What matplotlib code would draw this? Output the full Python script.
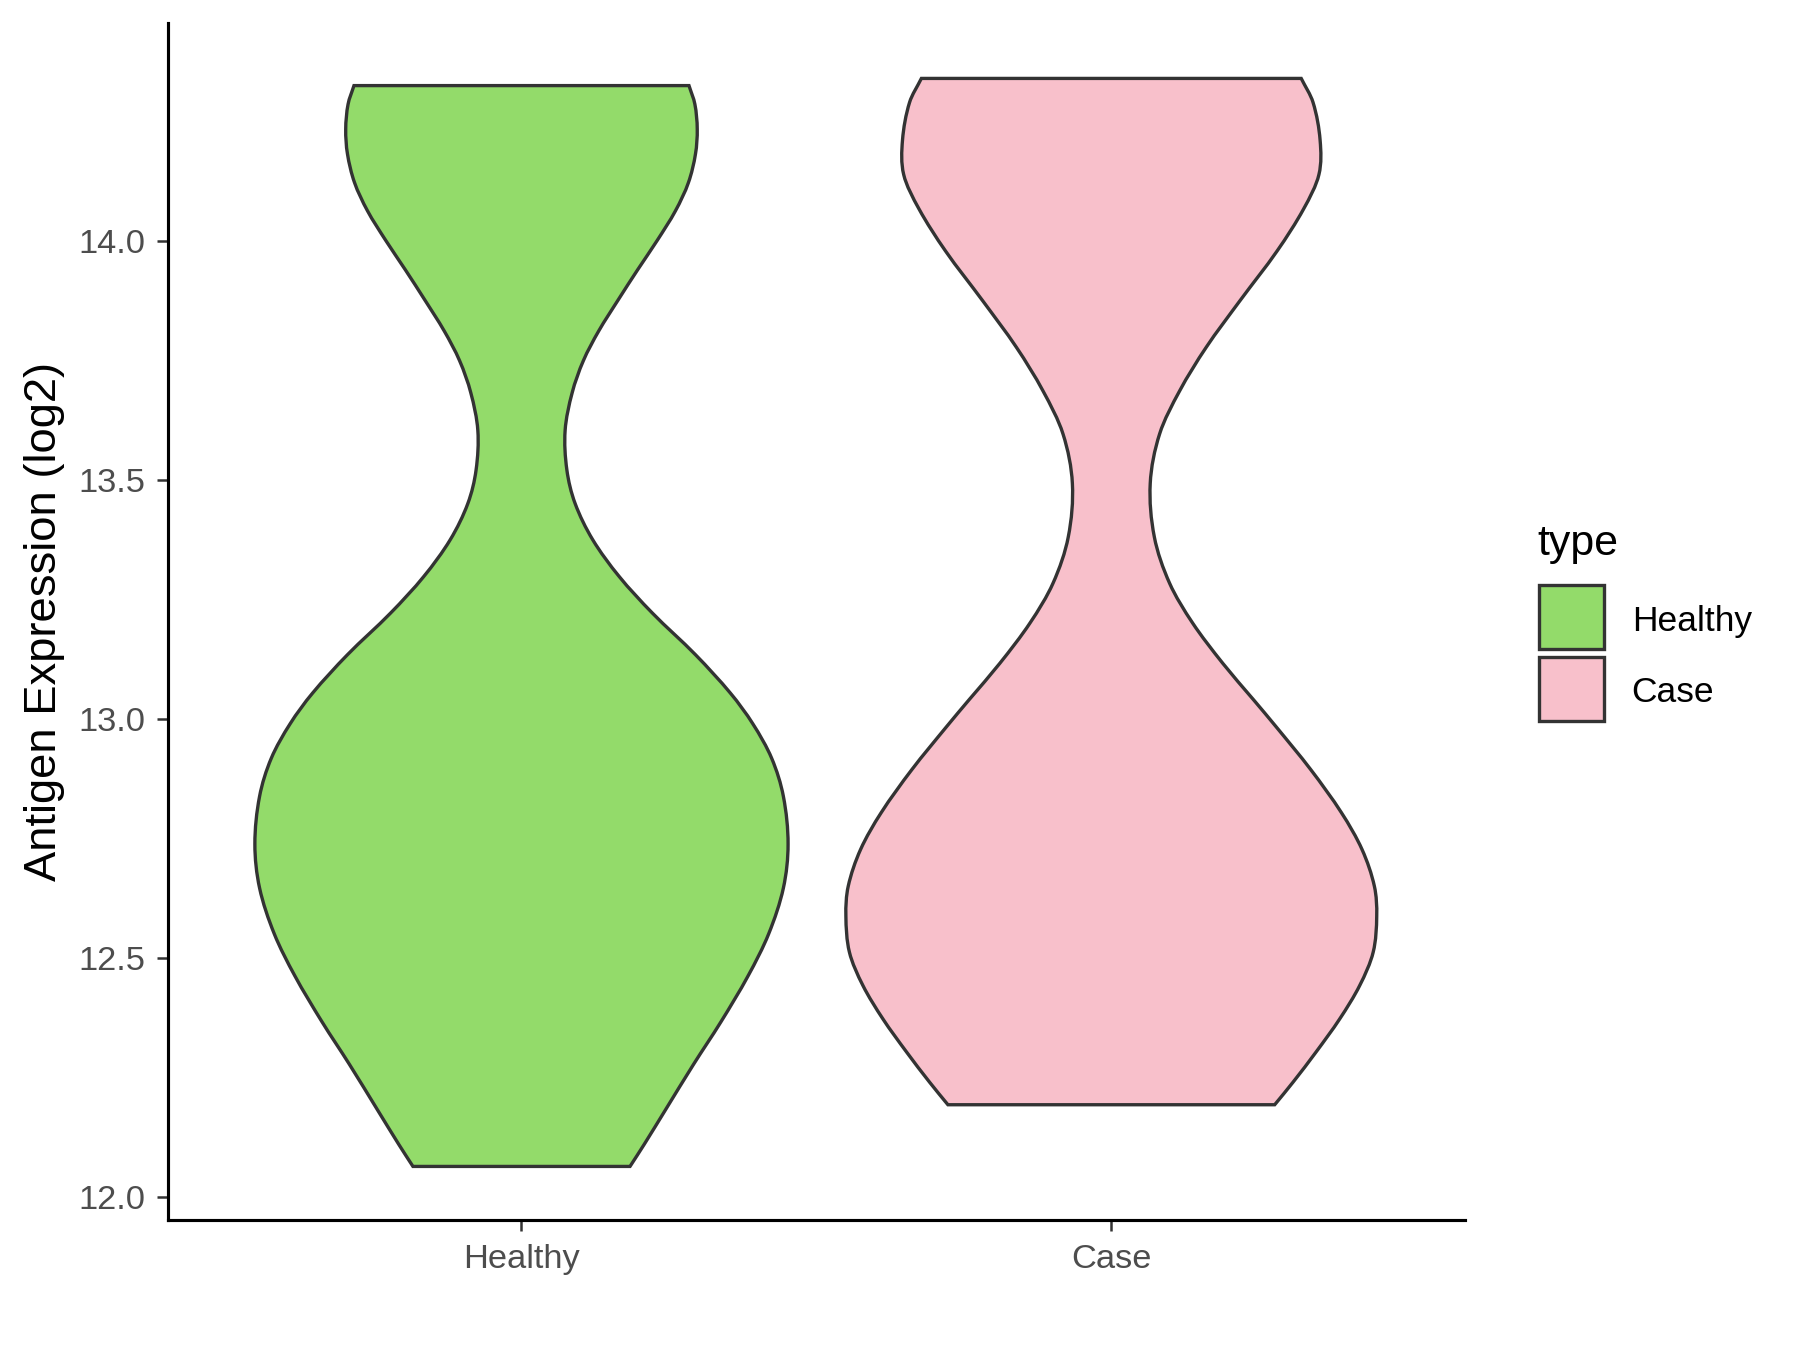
import numpy as np
import matplotlib
matplotlib.use("Agg")
import matplotlib.pyplot as plt
from matplotlib.path import Path
from matplotlib.patches import PathPatch, Rectangle

plt.rcParams["font.family"] = ["Liberation Sans", "DejaVu Sans"]

# --- data: violin outlines (y value, half-width in x units) ---
groups = ["Healthy", "Case"]
colors = ["#93DB6A", "#F8C0CB"]

healthy_y = [14.324, 14.285, 14.233, 14.181, 14.121, 14.062, 14.000, 13.939,
             13.876, 13.811, 13.749, 13.682, 13.603, 13.520, 13.450, 13.374,
             13.297, 13.221, 13.134, 13.054, 12.990, 12.918, 12.838, 12.738,
             12.646, 12.550, 12.462, 12.366, 12.278, 12.182, 12.110, 12.064]
healthy_hw = [0.284, 0.294, 0.298, 0.295, 0.283, 0.261, 0.230, 0.197,
              0.164, 0.131, 0.105, 0.086, 0.074, 0.077, 0.091, 0.121,
              0.166, 0.222, 0.295, 0.354, 0.392, 0.424, 0.444, 0.452,
              0.444, 0.419, 0.384, 0.338, 0.292, 0.244, 0.208, 0.184]

case_y = [14.339, 14.289, 14.210, 14.138, 14.066, 13.978, 13.874, 13.777,
          13.686, 13.596, 13.492, 13.380, 13.283, 13.200, 13.116, 13.040,
          12.984, 12.894, 12.804, 12.727, 12.650, 12.588, 12.512, 12.442,
          12.372, 12.303, 12.240, 12.193]
case_hw = [0.322, 0.342, 0.354, 0.352, 0.326, 0.281, 0.218, 0.161,
           0.116, 0.082, 0.066, 0.073, 0.099, 0.138, 0.189, 0.241,
           0.279, 0.338, 0.390, 0.425, 0.446, 0.450, 0.444, 0.421,
           0.387, 0.347, 0.308, 0.277]

y_ticks = [12.0, 12.5, 13.0, 13.5, 14.0]
y_label = "Antigen Expression (log2)"
legend_title = "type"


def smooth_side(xs, ys):
    # x as a smooth function of y through the read points (cubic hermite,
    # drawn as bezier segments so uneven spacing doesn't kink the outline)
    xs = np.asarray(xs, float)
    ys = np.asarray(ys, float)
    n = len(xs)
    m = np.empty(n)
    m[1:-1] = (xs[2:] - xs[:-2]) / (ys[2:] - ys[:-2])
    m[0] = (xs[1] - xs[0]) / (ys[1] - ys[0])
    m[-1] = (xs[-1] - xs[-2]) / (ys[-1] - ys[-2])
    verts = []
    for i in range(n - 1):
        dy = ys[i + 1] - ys[i]
        verts += [(xs[i] + m[i] * dy / 3, ys[i] + dy / 3),
                  (xs[i + 1] - m[i + 1] * dy / 3, ys[i + 1] - dy / 3),
                  (xs[i + 1], ys[i + 1])]
    return verts


def violin_patch(center, ys, hws, color):
    ys = np.asarray(ys)
    hws = np.asarray(hws)
    left = smooth_side(center - hws, ys)
    right = smooth_side((center + hws)[::-1], ys[::-1])
    verts = [(center - hws[0], ys[0])] + left + [(center + hws[-1], ys[-1])] + right + [(0, 0)]
    codes = ([Path.MOVETO] + [Path.CURVE4] * len(left) + [Path.LINETO]
             + [Path.CURVE4] * len(right) + [Path.CLOSEPOLY])
    return PathPatch(Path(verts, codes), facecolor=color, edgecolor="#333333",
                     lw=1.6, joinstyle="miter", zorder=2)


fig = plt.figure(figsize=(12, 9), dpi=150)
ax = fig.add_axes([0.0931, 0.0963, 0.7209, 0.8867])

shapes = [(healthy_y, healthy_hw), (case_y, case_hw)]
for i, ((ys, hws), col) in enumerate(zip(shapes, colors)):
    ax.add_patch(violin_patch(i + 1, ys, hws, col))

ax.set_xlim(0.4, 2.6)
ax.set_ylim(11.952, 14.455)
ax.set_xticks([1, 2])
ax.set_xticklabels(groups)
ax.set_yticks(y_ticks)
ax.set_yticklabels([f"{v:.1f}" for v in y_ticks])

for s in ["top", "right"]:
    ax.spines[s].set_visible(False)
for s in ["left", "bottom"]:
    ax.spines[s].set_color("black")
    ax.spines[s].set_linewidth(1.5)
ax.tick_params(axis="both", length=5.3, width=1.2, color="#333333",
               labelcolor="#4D4D4D", labelsize=16.5)
ax.tick_params(axis="y", pad=5.5)
ax.tick_params(axis="x", pad=6.0)

ax.set_ylabel(y_label, fontsize=21.8, color="black")
ax.yaxis.set_label_coords(-0.079, 0.5)

# legend, drawn by hand to match the ggplot guide
W, H = 1800, 1350
fig.text(1537.7 / W, 1 - 555 / H, legend_title, fontsize=20.6, va="baseline", ha="left")
key_tops = [584, 655.7]
label_base = [631, 701.7]
for top, base, name, col in zip(key_tops, label_base, groups, colors):
    fig.add_artist(Rectangle((1539.3 / W, 1 - (top + 65.5) / H), 64.6 / W, 64.4 / H,
                             transform=fig.transFigure, facecolor=col,
                             edgecolor="#333333", lw=1.6))
    fig.text(1631.7 / W, 1 - base / H, name, fontsize=17, va="baseline", ha="left")

fig.savefig("out.png", dpi=150)
